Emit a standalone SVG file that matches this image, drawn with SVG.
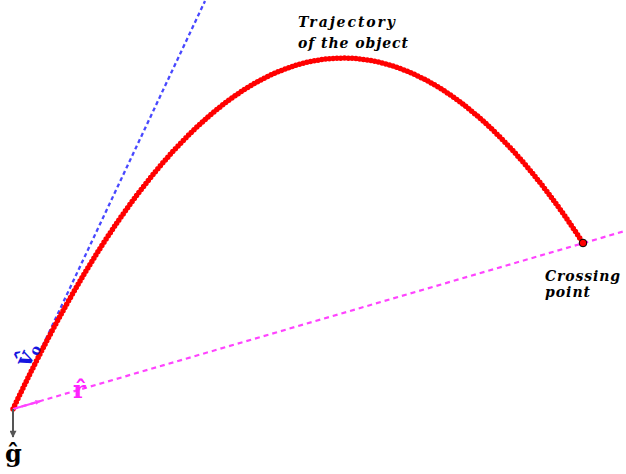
<svg xmlns="http://www.w3.org/2000/svg" width="626" height="474" viewBox="0 0 626 474">
<style>
.lbl{font-family:"DejaVu Serif","Liberation Serif",serif;font-style:italic;font-weight:bold;font-size:14px;fill:#000}
.vec{font-family:"DejaVu Serif","Liberation Serif",serif;font-weight:bold}
</style>
<defs>
<marker id="ah-pink" viewBox="0 0 10 10" refX="9" refY="5" markerWidth="6" markerHeight="5" orient="auto" markerUnits="userSpaceOnUse"><path d="M0,0 L10,5 L0,10 Z" fill="#ff44ff"/></marker>
<marker id="ah-gray" viewBox="0 0 10 10" refX="9" refY="5" markerWidth="9" markerHeight="7" orient="auto" markerUnits="userSpaceOnUse"><path d="M0,0 L10,5 L0,10 Z" fill="#555"/></marker>
</defs>
<rect width="626" height="474" fill="#fff"/>
<g id="connectors">
<line id="v0-line" x1="13" y1="409" x2="205" y2="1" stroke="#4848ff" stroke-width="2.3" stroke-dasharray="4 3"/>
<line id="r-line" x1="13" y1="409" x2="626" y2="230.7" stroke="#ff44ff" stroke-width="2.2" stroke-dasharray="5 4"/>
<path id="trajectory" d="M13,409 Q298,-196.6 583,243" fill="none" stroke="#f00" stroke-width="5.5" stroke-linecap="round" stroke-dasharray="0 3.8"/>
<line id="r-arrow" x1="13" y1="409" x2="40" y2="401.2" stroke="#ff44ff" stroke-width="2" marker-end="url(#ah-pink)"/>
<line id="g-arrow" x1="13" y1="409" x2="13" y2="437" stroke="#555" stroke-width="2" marker-end="url(#ah-gray)"/>
</g>
<g id="crossing-point"><circle cx="583" cy="243" r="3.8" fill="#f00" stroke="#000" stroke-width="1"/></g>
<g id="label-trajectory">
<text class="lbl" x="298" y="27" textLength="97" lengthAdjust="spacing">Trajectory</text>
<text class="lbl" x="298" y="48" textLength="110" lengthAdjust="spacing">of the object</text>
</g>
<g id="label-crossing">
<text class="lbl" x="545" y="281" textLength="75" lengthAdjust="spacing">Crossing</text>
<text class="lbl" x="545" y="297" textLength="45" lengthAdjust="spacing">point</text>
</g>
<g id="label-v0"><text class="vec" font-size="24" fill="#1515e0" transform="translate(29,368) rotate(-65)">v̂<tspan font-size="14" dy="3">o</tspan></text></g>
<g id="label-r"><text class="vec" font-size="24" fill="#ff22ff" x="73" y="398">r̂</text></g>
<g id="label-g"><text class="vec" font-size="24" fill="#000" x="5" y="462">ĝ</text></g>
</svg>
